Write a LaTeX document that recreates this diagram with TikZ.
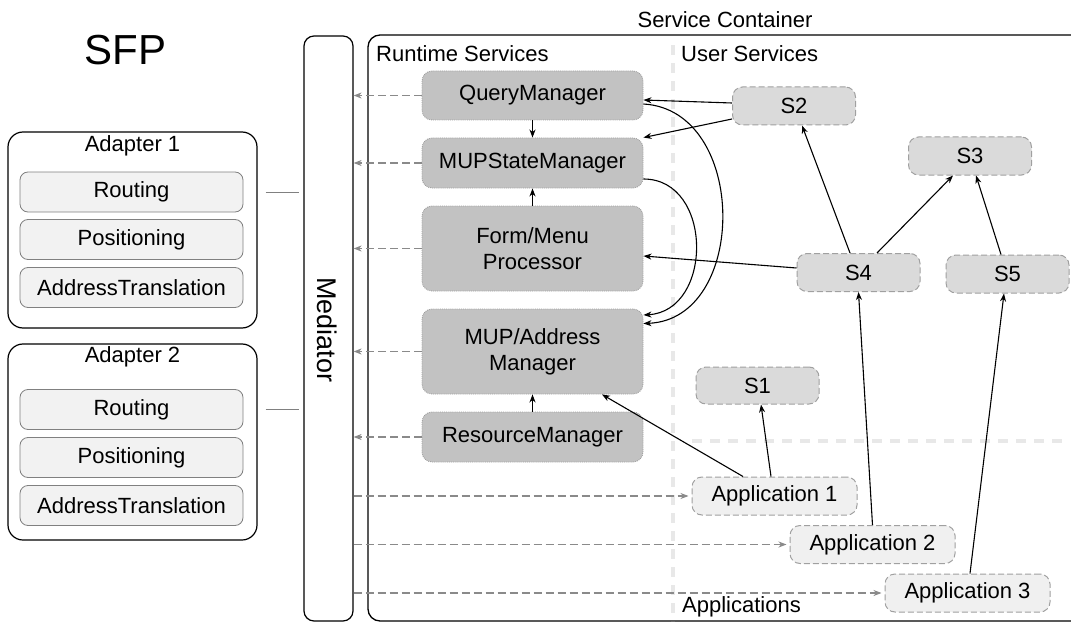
\documentclass[tikz,border=0pt]{standalone}
\usepackage{fontspec}
\setmainfont{Liberation Sans}
\usetikzlibrary{arrows.meta,calc}

\definecolor{rtfill}{HTML}{C2C2C2}
\definecolor{usfill}{HTML}{DADADA}
\definecolor{apfill}{HTML}{F0F0F0}
\definecolor{infill}{HTML}{F2F2F2}
\definecolor{bordergray}{HTML}{A0A0A0}
\definecolor{arrgray}{HTML}{8A8A8A}
\definecolor{guidegray}{HTML}{E8E8E8}

\newcommand\lbl{\fontsize{22}{26}\selectfont}

\begin{document}
\begin{tikzpicture}[x=1pt,y=-1pt,
  every node/.style={font=\lbl, inner sep=0pt},
  rtbox/.style={draw=bordergray, densely dotted, line width=0.9pt, fill=rtfill,
    rounded corners=10pt, minimum width=221pt, align=center},
  usbox/.style={draw=bordergray, dash pattern=on 6pt off 3pt, line width=1pt,
    fill=usfill, rounded corners=10pt, minimum width=123pt, minimum height=38pt},
  apbox/.style={usbox, fill=apfill, minimum width=165pt},
  inbox/.style={draw=gray, line width=0.8pt, fill=infill, rounded corners=8pt,
    minimum width=223pt, minimum height=40pt},
  adbox/.style={draw=black, line width=1.2pt, rounded corners=15pt},
  arr/.style={-{Stealth[length=8pt,width=6pt,inset=2.5pt]}, line width=1.1pt, black},
  dasharr/.style={-{Stealth[length=8pt,width=6pt,inset=2.5pt]}, draw=arrgray,
    dash pattern=on 8pt off 4pt, line width=1.1pt},
  guide/.style={draw=guidegray, line width=4pt, dash pattern=on 10pt off 8pt},
  link/.style={draw=gray, line width=1pt}]

\useasboundingbox (0,0) rectangle (1071,623);

% title
\node[font=\fontsize{42}{46}\selectfont] (sfp) at (125.5,50) {SFP};

% adapters
\node[adbox, minimum width=249pt, minimum height=196pt] (ad1) at (132.5,230) {};
\node (ad1t) at (132.5,146) {Adapter 1};
\node[inbox] (a1r) at (131.5,192) {Routing};
\node[inbox] (a1p) at (131.5,239.5) {Positioning};
\node[inbox] (a1a) at (131.5,287.5) {AddressTranslation};

\node[adbox, minimum width=249pt, minimum height=196pt] (ad2) at (132.5,442) {};
\node (ad2t) at (132.5,357) {Adapter 2};
\node[inbox] (a2r) at (131.5,409.5) {Routing};
\node[inbox] (a2p) at (131.5,457.5) {Positioning};
\node[inbox] (a2a) at (131.5,505.5) {AddressTranslation};

% mediator
\node[draw=black, line width=1.2pt, rounded corners=10pt,
  minimum width=49pt, minimum height=585pt] (med) at (328.5,328.5) {};
\node[rotate=-90, font=\fontsize{27}{30}\selectfont] (medt) at (327.5,330) {Mediator};

\draw[link] ([xshift=8pt]a1r.center -| ad1.east) -- ([xshift=-4pt]a1r.center -| med.west);
\draw[link] ([xshift=8pt]a2r.center -| ad2.east) -- ([xshift=-4pt]a2r.center -| med.west);

% service container
\draw[line width=1.3pt, rounded corners=12pt] (368,35) rectangle (1110,621);
\node (sct) at (725,20) {Service Container};
\node[anchor=west] (rst) at (376,54) {Runtime Services};
\node[anchor=west] (ust) at (681,54) {User Services};
\node[anchor=west] (apt) at (682,607) {Applications};

% section guides
\draw[guide] (673,45) -- (673,621);
\draw[guide] (692,441) -- (1068,441);

% runtime services
\node[rtbox, minimum height=49pt] (qm) at (532.5,95.5) {QueryManager};
\node[rtbox, minimum height=50pt] (msm) at (532.5,163) {MUPStateManager};
\node[rtbox, minimum height=85pt] (fm) at (532.5,248.5) {Form/Menu\\Processor};
\node[rtbox, minimum height=85pt] (ma) at (532.5,351.5) {MUP/Address\\Manager};
\node[rtbox, minimum height=50pt] (rm) at (532.5,437) {ResourceManager};

% user services
\node[usbox] (s2) at (794,106) {S2};
\node[usbox] (s3) at (970,156) {S3};
\node[usbox] (s4) at (858.5,272.5) {S4};
\node[usbox] (s5) at (1007.5,274) {S5};
\node[usbox, minimum height=37pt] (s1) at (757.5,385.5) {S1};

% applications
\node[apbox] (app1) at (774.5,496) {Application 1};
\node[apbox] (app2) at (872.5,544.5) {Application 2};
\node[apbox] (app3) at (967.5,593) {Application 3};

% runtime services talk to the mediator
\foreach \n in {qm,msm,fm,ma,rm}
  \draw[dasharr] (\n.west) -- (\n.west -| med.east);

% mediator reaches the applications
\foreach \n in {app1,app2,app3}
  \draw[dasharr] (\n.west -| med.east) -- ([xshift=-3pt]\n.west);

% dependencies inside the runtime
\draw[arr] (qm) -- (msm);
\draw[arr] (fm) -- (msm);
\draw[arr] (rm) -- (ma);
\draw[arr] ([yshift=-8.5pt]qm.east) .. controls +(105,6) and +(105,-4) .. ([yshift=28pt]ma.east);
\draw[arr] ([yshift=-16pt]msm.east) .. controls +(70,0) and +(70,-4) .. ([yshift=36.5pt]ma.east);

% user service dependencies
\draw[arr] ([yshift=3pt]s2.west) -- ([yshift=-4.5pt]qm.east);
\draw[arr] ([yshift=-13pt]s2.west) -- (msm.north east);
\draw[arr] ([yshift=4.5pt]s4.west) -- ([yshift=-7.5pt]fm.east);
\draw[arr] ([xshift=-8.5pt]s4.north) -- ([xshift=8pt]s2.south);
\draw[arr] ([xshift=18.5pt]s4.north) -- ([xshift=-17pt]s3.south);
\draw[arr] ([xshift=-6.5pt]s5.north) -- ([xshift=6pt]s3.south);

% application dependencies
\draw[arr] ([xshift=-3.5pt]app1.north) -- ([xshift=3.5pt]s1.south);
\draw[arr] ([xshift=-31.5pt]app1.north) -- ([xshift=69.5pt]ma.south);
\draw[arr] (app2.north) -- (s4.south);
\draw[arr] ([xshift=2.5pt]app3.north) -- ([xshift=-3.5pt]s5.south);

\end{tikzpicture}
\end{document}
